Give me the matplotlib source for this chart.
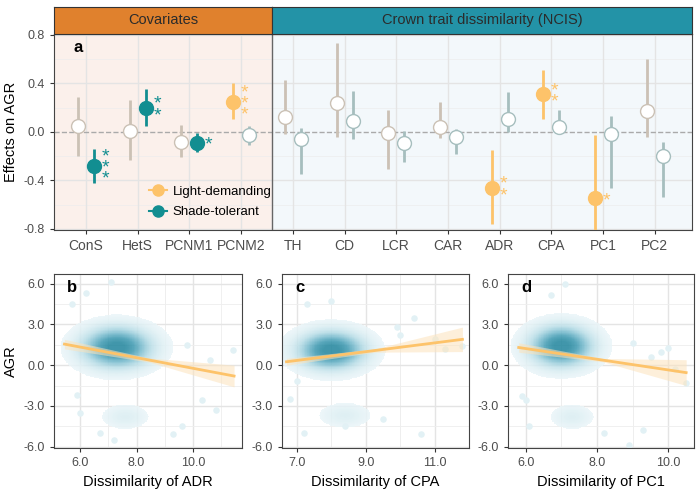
import numpy as np
import matplotlib.pyplot as plt
from matplotlib.colors import LinearSegmentedColormap
from matplotlib.lines import Line2D

# ---- panel a data ----
terms = ['ConS', 'HetS', 'PCNM1', 'PCNM2', 'TH', 'CD', 'LCR', 'CAR', 'ADR', 'CPA', 'PC1', 'PC2']
light_est = [0.05, 0.01, -0.08, 0.25, 0.12, 0.24, -0.01, 0.04, -0.46, 0.31, -0.55, 0.17]
light_lo = [-0.20, -0.23, -0.21, 0.11, -0.02, -0.04, -0.31, -0.05, -0.76, 0.11, -0.83, -0.04]
light_hi = [0.29, 0.26, 0.06, 0.40, 0.43, 0.73, 0.18, 0.25, -0.15, 0.51, -0.03, 0.60]
light_sig = ['', '', '', '***', '', '', '', '', '**', '**', '*', '']
shade_est = [-0.28, 0.20, -0.09, -0.03, -0.06, 0.09, -0.09, -0.04, 0.11, 0.04, -0.02, -0.20]
shade_lo = [-0.42, 0.05, -0.17, -0.11, -0.35, -0.06, -0.25, -0.18, 0.00, -0.02, -0.46, -0.54]
shade_hi = [-0.14, 0.35, -0.01, 0.05, 0.03, 0.34, 0.01, 0.02, 0.33, 0.18, 0.13, -0.08]
shade_sig = ['***', '**', '*', '', '', '', '', '', '', '', '', '']

# ---- panels b-d data ----
panel_labels = ['b', 'c', 'd']
traits = ['ADR', 'CPA', 'PC1']
xlims = [(5.08, 11.73), (6.57, 11.99), (5.5, 10.72)]
xticks = [[6, 8, 10], [7, 9, 11], [6, 8, 10]]
fit_x = [(5.45, 11.45), (6.7, 11.8), (5.8, 10.5)]
fit_y = [(1.55, -0.8), (0.25, 1.9), (1.3, -0.55)]
band_end = [(0.35, 0.8), (0.25, 0.9), (0.35, 0.95)]
band_mid = [0.15, 0.12, 0.12]
cloud_main = [(7.3, 1.3, 0.7, 0.85), (8.0, 1.1, 0.55, 0.8), (7.0, 1.4, 0.5, 0.85)]
cloud_low = [(7.6, -3.8, 0.55, 0.6), (8.4, -3.7, 0.5, 0.6), (7.3, -3.8, 0.4, 0.6)]
outlier_x = [[6.2, 7.1, 5.7, 9.3, 10.3, 11.4, 9.6, 6.7, 7.2, 10.8, 5.9, 6.0, 9.8, 10.6],
             [7.3, 8.0, 10.4, 10.6, 11.3, 8.4, 9.9, 7.0, 11.8, 9.5, 6.8, 7.2, 10.0, 11.0],
             [6.7, 7.1, 5.9, 9.3, 8.9, 10.5, 6.1, 8.2, 10.0, 9.8, 6.0, 9.0, 9.5, 10.2]]
outlier_y = [[5.3, 6.1, 4.5, -5.1, -2.6, 1.1, -4.5, -5.0, -5.5, -3.3, -2.2, -3.5, 1.5, 0.4],
             [4.5, 4.7, 3.5, -5.1, 1.2, -4.5, 2.8, -1.2, 1.4, -4.0, -2.5, -5.0, 2.2, 1.9],
             [5.2, 6.0, -2.3, -4.8, -5.9, -1.3, -4.5, -5.0, 1.3, 1.0, -2.6, 1.6, 0.6, -0.3]]

LIGHT = '#FDC36A'
SHADE = '#128E91'
LIGHT_NS = '#CBC1B5'
SHADE_NS = '#A6BEBE'
GRID = '#E4E4E4'
TXT = '#4D4D4D'

plt.rcParams['font.family'] = ['Liberation Sans', 'DejaVu Sans']
fig = plt.figure(figsize=(7, 4.94), dpi=100)

# ---------- panel a ----------
ax = fig.add_axes([0.0771, 0.5344, 0.9114, 0.3974])
x = np.arange(len(terms))
split = 3.6
ax.set_xlim(-0.62, 11.72)
ax.set_ylim(-0.81, 0.81)
ax.axvspan(-0.62, split, color='#FBF0EB', zorder=0)
ax.axvspan(split, 11.72, color='#F3F8FB', zorder=0)
for yv in [-0.6, -0.2, 0.2, 0.6]:
    ax.axhline(yv, color='#EDEDED', lw=0.5, zorder=1)
for yv in [-0.8, -0.4, 0.4, 0.8]:
    ax.axhline(yv, color=GRID, lw=1, zorder=1)
for xv in x:
    ax.axvline(xv, color=GRID, lw=1, zorder=1)
ax.axhline(0, color='#AAAAAA', ls='--', lw=1, zorder=2)
ax.axvline(split, color='#666666', lw=1, zorder=3)

off = 0.155
for est, lo, hi, sig, col, ns, dx in [
        (light_est, light_lo, light_hi, light_sig, LIGHT, LIGHT_NS, -off),
        (shade_est, shade_lo, shade_hi, shade_sig, SHADE, SHADE_NS, off)]:
    for i in range(len(terms)):
        xi = x[i] + dx
        if sig[i]:
            ax.vlines(xi, lo[i], hi[i], color=col, lw=2, zorder=4)
            ax.plot(xi, est[i], 'o', ms=10, color=col, zorder=5)
            ax.text(xi + 0.22, est[i] - 0.02, '\n'.join(sig[i]), color=col, fontsize=14,
                    ha='center', va='center', linespacing=0.55)
        else:
            ax.vlines(xi, lo[i], hi[i], color=ns, lw=2, zorder=4)
            ax.plot(xi, est[i], 'o', ms=10, mfc='white', mec=ns, mew=1, zorder=5)

ax.set_xticks(x)
ax.set_xticklabels(terms, fontsize=10, color=TXT)
ax.set_yticks([-0.8, -0.4, 0.0, 0.4, 0.8])
ax.set_yticklabels(['-0.8', '-0.4', '0.0', '0.4', '0.8'], fontsize=9, color=TXT)
ax.set_ylabel('Effects on AGR', fontsize=10.5)
ax.tick_params(length=3, color='#333333')
for s in ax.spines.values():
    s.set_color('#444444')
ax.text(0.03, 0.93, 'a', transform=ax.transAxes, fontsize=12, fontweight='bold', va='center')
handles = [Line2D([0], [0], color=LIGHT, marker='o', ms=8, lw=1.5),
           Line2D([0], [0], color=SHADE, marker='o', ms=8, lw=1.5)]
ax.legend(handles, ['Light-demanding', 'Shade-tolerant'], loc='lower left',
          bbox_to_anchor=(0.13, 0.0), frameon=False, fontsize=9.5, handlelength=1.4,
          handletextpad=0.4, labelspacing=0.6)

# strips
for (x0, x1, col, label) in [(-0.62, split, '#E0812D', 'Covariates'),
                             (split, 11.72, '#2393A7', 'Crown trait dissimilarity (NCIS)')]:
    f0 = 0.0771 + 0.9114 * (x0 + 0.62) / 12.34
    f1 = 0.0771 + 0.9114 * (x1 + 0.62) / 12.34
    sax = fig.add_axes([f0, 0.9318, f1 - f0, 0.054])
    sax.set_facecolor(col)
    sax.set_xticks([]); sax.set_yticks([])
    for s in sax.spines.values():
        s.set_color('#333333')
    sax.text(0.5, 0.5, label, ha='center', va='center', fontsize=10.5,
             color='#2B2B2B', transform=sax.transAxes)

# ---------- panels b-d ----------
cmap = LinearSegmentedColormap.from_list('cl', ['#EAF5F8', '#B6DCE6', '#74B9CC', '#3C98B0', '#1F849C'])
lefts = [54, 282, 508]
rights = [242, 469, 694]
for j in range(3):
    bx = fig.add_axes([lefts[j] / 700, 0.0931, (rights[j] - lefts[j]) / 700, 0.3522])
    x0, x1 = xlims[j]
    bx.set_xlim(x0, x1)
    bx.set_ylim(-6.1, 6.71)
    bx.set_facecolor('white')
    for xv in xticks[j]:
        bx.axvline(xv, color=GRID, lw=1, zorder=0)
        bx.axvline(xv + 1, color='#EEEEEE', lw=0.6, zorder=0)
        bx.axvline(xv - 1, color='#EEEEEE', lw=0.6, zorder=0)
    for yv in [-6, -3, 0, 3, 6]:
        bx.axhline(yv, color=GRID, lw=1, zorder=0)
    for yv in [-4.5, -1.5, 1.5, 4.5]:
        bx.axhline(yv, color='#EEEEEE', lw=0.6, zorder=0)

    gx, gy = np.meshgrid(np.linspace(x0, x1, 300), np.linspace(-6.1, 6.71, 300))
    cx, cy, sx, sy = cloud_main[j]
    lx, ly, lsx, lsy = cloud_low[j]
    dens = np.exp(-0.5 * (((gx - cx) / sx) ** 2 + ((gy - cy) / sy) ** 2))
    dens += 0.12 * np.exp(-0.5 * (((gx - lx) / lsx) ** 2 + ((gy - ly) / lsy) ** 2))
    dens += 0.08 * np.exp(-0.5 * (((gx - cx) / (sx * 1.8)) ** 2 + ((gy - cy) / (sy * 1.8)) ** 2))
    dens = np.ma.masked_less(dens, 0.04)
    bx.pcolormesh(gx, gy, dens, cmap=cmap, vmin=0.04, vmax=1.0, shading='auto',
                  alpha=0.85, zorder=1, rasterized=True)
    bx.scatter(outlier_x[j], outlier_y[j], s=22, color='#E2F1F5', zorder=1, lw=0)

    fx = np.array(fit_x[j]); fy = np.array(fit_y[j])
    xm = fx.mean()
    bxs = np.array([fx[0], xm, fx[1]])
    bys = np.interp(bxs, fx, fy)
    hw = np.array([band_end[j][0], band_mid[j], band_end[j][1]])
    bx.fill_between(bxs, bys - hw, bys + hw, color='#FCE3BC', alpha=0.55, lw=0, zorder=2)
    bx.plot(fx, fy, color=LIGHT, lw=2, zorder=3)

    bx.set_xticks(xticks[j])
    bx.set_xticklabels([f'{v:.1f}' for v in xticks[j]], fontsize=9, color=TXT)
    bx.set_yticks([-6, -3, 0, 3, 6])
    bx.set_yticklabels(['-6.0', '-3.0', '0.0', '3.0', '6.0'], fontsize=9, color=TXT)
    bx.set_xlabel(f'Dissimilarity of {traits[j]}', fontsize=10.5)
    bx.tick_params(length=3, color='#333333')
    for s in bx.spines.values():
        s.set_color('#444444')
    if j == 0:
        bx.set_ylabel('AGR', fontsize=10.5)
    bx.text(0.07, 0.92, panel_labels[j], transform=bx.transAxes, fontsize=12,
            fontweight='bold', va='center')

fig.savefig('out.png', dpi=100)
